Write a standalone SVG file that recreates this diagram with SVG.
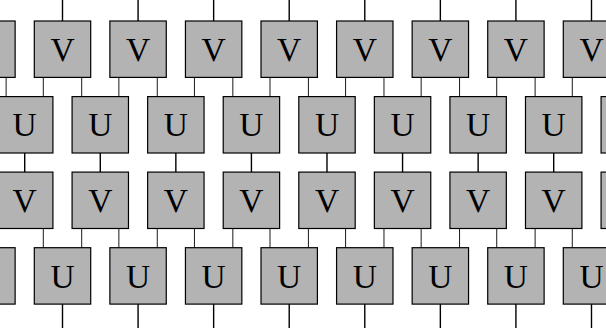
<svg xmlns="http://www.w3.org/2000/svg" width="606" height="328" viewBox="0 0 606 328">
<style>
.b{fill:#b3b3b3;stroke:#000;stroke-width:1.2}
.t{font-family:"Liberation Serif","Times New Roman",serif;font-size:33.5px;text-anchor:middle;fill:#000}
.leg{stroke:#1a1a1a;stroke-width:1}
.w{stroke:#000;stroke-width:1.4}
</style>
<rect width="606" height="328" fill="#fff"/>
<g id="connectors" fill="none">
<g class="w">
<line x1="62.5" y1="0" x2="62.5" y2="21"/><line x1="138.07" y1="0" x2="138.07" y2="21"/><line x1="213.64" y1="0" x2="213.64" y2="21"/><line x1="289.21" y1="0" x2="289.21" y2="21"/><line x1="364.78" y1="0" x2="364.78" y2="21"/><line x1="440.35" y1="0" x2="440.35" y2="21"/><line x1="515.92" y1="0" x2="515.92" y2="21"/><line x1="591.49" y1="0" x2="591.49" y2="21"/>
<line x1="24.71" y1="153" x2="24.71" y2="172.1"/><line x1="100.28" y1="153" x2="100.28" y2="172.1"/><line x1="175.85" y1="153" x2="175.85" y2="172.1"/><line x1="251.42" y1="153" x2="251.42" y2="172.1"/><line x1="326.99" y1="153" x2="326.99" y2="172.1"/><line x1="402.56" y1="153" x2="402.56" y2="172.1"/><line x1="478.13" y1="153" x2="478.13" y2="172.1"/><line x1="553.7" y1="153" x2="553.7" y2="172.1"/>
<line x1="62.5" y1="304.1" x2="62.5" y2="328"/><line x1="138.07" y1="304.1" x2="138.07" y2="328"/><line x1="213.64" y1="304.1" x2="213.64" y2="328"/><line x1="289.21" y1="304.1" x2="289.21" y2="328"/><line x1="364.78" y1="304.1" x2="364.78" y2="328"/><line x1="440.35" y1="304.1" x2="440.35" y2="328"/><line x1="515.92" y1="304.1" x2="515.92" y2="328"/><line x1="591.49" y1="304.1" x2="591.49" y2="328"/>
</g>
<g class="leg">
<line x1="6.13" y1="77.4" x2="6.13" y2="96.6"/><line x1="43.3" y1="77.4" x2="43.3" y2="96.6"/><line x1="81.7" y1="77.4" x2="81.7" y2="96.6"/><line x1="118.87" y1="77.4" x2="118.87" y2="96.6"/><line x1="157.27" y1="77.4" x2="157.27" y2="96.6"/><line x1="194.44" y1="77.4" x2="194.44" y2="96.6"/><line x1="232.84" y1="77.4" x2="232.84" y2="96.6"/><line x1="270.01" y1="77.4" x2="270.01" y2="96.6"/><line x1="308.41" y1="77.4" x2="308.41" y2="96.6"/><line x1="345.58" y1="77.4" x2="345.58" y2="96.6"/><line x1="383.98" y1="77.4" x2="383.98" y2="96.6"/><line x1="421.15" y1="77.4" x2="421.15" y2="96.6"/><line x1="459.55" y1="77.4" x2="459.55" y2="96.6"/><line x1="496.72" y1="77.4" x2="496.72" y2="96.6"/><line x1="535.12" y1="77.4" x2="535.12" y2="96.6"/><line x1="572.29" y1="77.4" x2="572.29" y2="96.6"/>
<line x1="43.3" y1="228.5" x2="43.3" y2="247.7"/><line x1="81.7" y1="228.5" x2="81.7" y2="247.7"/><line x1="118.87" y1="228.5" x2="118.87" y2="247.7"/><line x1="157.27" y1="228.5" x2="157.27" y2="247.7"/><line x1="194.44" y1="228.5" x2="194.44" y2="247.7"/><line x1="232.84" y1="228.5" x2="232.84" y2="247.7"/><line x1="270.01" y1="228.5" x2="270.01" y2="247.7"/><line x1="308.41" y1="228.5" x2="308.41" y2="247.7"/><line x1="345.58" y1="228.5" x2="345.58" y2="247.7"/><line x1="383.98" y1="228.5" x2="383.98" y2="247.7"/><line x1="421.15" y1="228.5" x2="421.15" y2="247.7"/><line x1="459.55" y1="228.5" x2="459.55" y2="247.7"/><line x1="496.72" y1="228.5" x2="496.72" y2="247.7"/><line x1="535.12" y1="228.5" x2="535.12" y2="247.7"/><line x1="572.29" y1="228.5" x2="572.29" y2="247.7"/>
</g>
</g>
<g id="row1">
<g id="v1-0"><rect class="b" x="-41.27" y="21" width="56.4" height="56.4"/><text class="t" x="-13.07" y="60.8">V</text></g>
<g id="v1-1"><rect class="b" x="34.3" y="21" width="56.4" height="56.4"/><text class="t" x="62.5" y="60.8">V</text></g>
<g id="v1-2"><rect class="b" x="109.87" y="21" width="56.4" height="56.4"/><text class="t" x="138.07" y="60.8">V</text></g>
<g id="v1-3"><rect class="b" x="185.44" y="21" width="56.4" height="56.4"/><text class="t" x="213.64" y="60.8">V</text></g>
<g id="v1-4"><rect class="b" x="261.01" y="21" width="56.4" height="56.4"/><text class="t" x="289.21" y="60.8">V</text></g>
<g id="v1-5"><rect class="b" x="336.58" y="21" width="56.4" height="56.4"/><text class="t" x="364.78" y="60.8">V</text></g>
<g id="v1-6"><rect class="b" x="412.15" y="21" width="56.4" height="56.4"/><text class="t" x="440.35" y="60.8">V</text></g>
<g id="v1-7"><rect class="b" x="487.72" y="21" width="56.4" height="56.4"/><text class="t" x="515.92" y="60.8">V</text></g>
<g id="v1-8"><rect class="b" x="563.29" y="21" width="56.4" height="56.4"/><text class="t" x="591.49" y="60.8">V</text></g>
</g>
<g id="row2">
<g id="u2-0"><rect class="b" x="-3.49" y="96.6" width="56.4" height="56.4"/><text class="t" x="24.71" y="136.4">U</text></g>
<g id="u2-1"><rect class="b" x="72.08" y="96.6" width="56.4" height="56.4"/><text class="t" x="100.28" y="136.4">U</text></g>
<g id="u2-2"><rect class="b" x="147.65" y="96.6" width="56.4" height="56.4"/><text class="t" x="175.85" y="136.4">U</text></g>
<g id="u2-3"><rect class="b" x="223.22" y="96.6" width="56.4" height="56.4"/><text class="t" x="251.42" y="136.4">U</text></g>
<g id="u2-4"><rect class="b" x="298.79" y="96.6" width="56.4" height="56.4"/><text class="t" x="326.99" y="136.4">U</text></g>
<g id="u2-5"><rect class="b" x="374.36" y="96.6" width="56.4" height="56.4"/><text class="t" x="402.56" y="136.4">U</text></g>
<g id="u2-6"><rect class="b" x="449.93" y="96.6" width="56.4" height="56.4"/><text class="t" x="478.13" y="136.4">U</text></g>
<g id="u2-7"><rect class="b" x="525.5" y="96.6" width="56.4" height="56.4"/><text class="t" x="553.7" y="136.4">U</text></g>
<g id="u2-8"><rect class="b" x="601.07" y="96.6" width="56.4" height="56.4"/><text class="t" x="629.27" y="136.4">U</text></g>
</g>
<g id="row3">
<g id="v3-0"><rect class="b" x="-3.49" y="172.1" width="56.4" height="56.4"/><text class="t" x="24.71" y="211.9">V</text></g>
<g id="v3-1"><rect class="b" x="72.08" y="172.1" width="56.4" height="56.4"/><text class="t" x="100.28" y="211.9">V</text></g>
<g id="v3-2"><rect class="b" x="147.65" y="172.1" width="56.4" height="56.4"/><text class="t" x="175.85" y="211.9">V</text></g>
<g id="v3-3"><rect class="b" x="223.22" y="172.1" width="56.4" height="56.4"/><text class="t" x="251.42" y="211.9">V</text></g>
<g id="v3-4"><rect class="b" x="298.79" y="172.1" width="56.4" height="56.4"/><text class="t" x="326.99" y="211.9">V</text></g>
<g id="v3-5"><rect class="b" x="374.36" y="172.1" width="56.4" height="56.4"/><text class="t" x="402.56" y="211.9">V</text></g>
<g id="v3-6"><rect class="b" x="449.93" y="172.1" width="56.4" height="56.4"/><text class="t" x="478.13" y="211.9">V</text></g>
<g id="v3-7"><rect class="b" x="525.5" y="172.1" width="56.4" height="56.4"/><text class="t" x="553.7" y="211.9">V</text></g>
<g id="v3-8"><rect class="b" x="601.07" y="172.1" width="56.4" height="56.4"/><text class="t" x="629.27" y="211.9">V</text></g>
</g>
<g id="row4">
<g id="u4-0"><rect class="b" x="-41.27" y="247.7" width="56.4" height="56.4"/><text class="t" x="-13.07" y="287.6">U</text></g>
<g id="u4-1"><rect class="b" x="34.3" y="247.7" width="56.4" height="56.4"/><text class="t" x="62.5" y="287.6">U</text></g>
<g id="u4-2"><rect class="b" x="109.87" y="247.7" width="56.4" height="56.4"/><text class="t" x="138.07" y="287.6">U</text></g>
<g id="u4-3"><rect class="b" x="185.44" y="247.7" width="56.4" height="56.4"/><text class="t" x="213.64" y="287.6">U</text></g>
<g id="u4-4"><rect class="b" x="261.01" y="247.7" width="56.4" height="56.4"/><text class="t" x="289.21" y="287.6">U</text></g>
<g id="u4-5"><rect class="b" x="336.58" y="247.7" width="56.4" height="56.4"/><text class="t" x="364.78" y="287.6">U</text></g>
<g id="u4-6"><rect class="b" x="412.15" y="247.7" width="56.4" height="56.4"/><text class="t" x="440.35" y="287.6">U</text></g>
<g id="u4-7"><rect class="b" x="487.72" y="247.7" width="56.4" height="56.4"/><text class="t" x="515.92" y="287.6">U</text></g>
<g id="u4-8"><rect class="b" x="563.29" y="247.7" width="56.4" height="56.4"/><text class="t" x="591.49" y="287.6">U</text></g>
</g>
</svg>
